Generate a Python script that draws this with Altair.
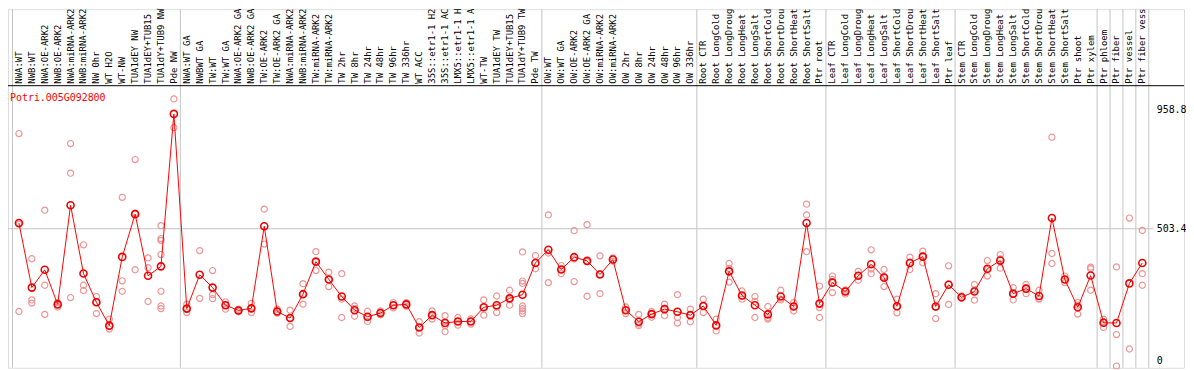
import altair as alt
import pandas as pd
import numpy as np

labels = [
    "NWA:WT", "NWB:WT", "NWA:OE-ARK2", "NWB:OE-ARK2", "NWA:miRNA-ARK2", "NWB:miRNA-ARK2",
    "NW 0hr", "WT H2O", "WT-NW", "TUA1dEY NW", "TUA1dEY+TUB15", "TUA1dY+TUB9 NW", "Pde NW",
    "NWA:WT GA", "NWBWT GA", "TW:WT", "TW:WT GA", "NWA:OE-ARK2 GA", "NWB:OE-ARK2 GA",
    "TW:OE-ARK2", "TW:OE-ARK2 GA", "NWA:miRNA-ARK2", "NWB:miRNA-ARK2", "TW:miRNA-ARK2",
    "TW:miRNA-ARK2", "TW 2hr", "TW 8hr", "TW 24hr", "TW 48hr", "TW 96hr", "TW 336hr",
    "WT ACC", "35S::etr1-1 H2", "35S::etr1-1 AC", "LMX5::etr1-1 H", "LMX5::etr1-1 A",
    "WT-TW", "TUA1dEY TW", "TUA1dEY+TUB15", "TUA1dY+TUB9 TW", "Pde TW",
    "OW:WT", "OW:WT GA", "OW:OE-ARK2", "OW:OE-ARK2 GA", "OW:miRNA-ARK2", "OW:miRNA-ARK2",
    "OW 2hr", "OW 8hr", "OW 24hr", "OW 48hr", "OW 96hr", "OW 336hr",
    "Root CTR", "Root LongCold", "Root LongDroug", "Root LongHeat", "Root LongSalt",
    "Root ShortCold", "Root ShortDrou", "Root ShortHeat", "Root ShortSalt", "Ptr root",
    "Leaf CTR", "Leaf LongCold", "Leaf LongDroug", "Leaf LongHeat", "Leaf LongSalt",
    "Leaf ShortCold", "Leaf ShortDrou", "Leaf ShortHeat", "Leaf ShortSalt", "Ptr leaf",
    "Stem CTR", "Stem LongCold", "Stem LongDroug", "Stem LongHeat", "Stem LongSalt",
    "Stem ShortCold", "Stem ShortDrou", "Stem ShortHeat", "Stem ShortSalt", "Ptr shoot",
    "Ptr xylem", "Ptr phloem", "Ptr fiber", "Ptr vessel", "Ptr fiber vess",
]

means = [
    525, 279, 347, 215, 593, 333, 223, 134, 396, 559, 324, 360, 941,
    199, 328, 279, 212, 192, 200, 513, 188, 163, 254, 378, 310, 245, 193, 168, 182,
    212, 215, 127, 174, 144, 150, 150, 204, 212, 238, 252, 373,
    423, 348, 395, 381, 329, 386, 193, 149, 178, 197, 187, 174,
    209, 135, 341, 249, 212, 177, 245, 207, 525, 218,
    298, 264, 324, 368, 317, 208, 373, 397, 207, 290,
    242, 264, 351, 382, 256, 275, 247, 544, 310, 204, 325,
    145, 144, 295, 373,
]

reps = [
    [866, 521, 188], [389, 232, 220], [574, 288, 177], [222, 215, 205], [828, 715, 241],
    [442, 288, 268], [245, 222, 180], [159, 134, 121], [623, 305, 265], [767, 563, 347],
    [392, 355, 226], [515, 466, 459, 405, 265, 209, 199], [998, 889],
    [216, 199, 184], [420, 238], [344, 252, 237], [225, 212, 197], [197, 192, 187],
    [219, 200, 184], [578, 445], [197, 188, 182], [193, 163, 131], [294, 254, 216],
    [416, 378, 344], [338, 310, 283], [332, 235, 165], [209, 200, 170], [189, 165, 150],
    [190, 182, 175], [222, 212, 202], [222, 215, 208], [149, 127, 106], [190, 174, 159],
    [172, 150, 134, 111], [165, 150, 136], [160, 150, 140], [232, 204, 174],
    [247, 205, 184], [269, 233, 212], [415, 304, 295, 209, 199, 190, 180], [401, 351],
    [556, 411, 298], [363, 348, 332], [496, 388, 302], [519, 378, 246], [400, 330, 256],
    [392, 380], [205, 193, 180], [177, 140, 134], [188, 178, 166], [216, 200, 172],
    [252, 165, 144], [197, 176, 149],
    [235, 209, 184], [159, 135, 114], [371, 352, 300], [266, 246, 235], [245, 226, 165],
    [207, 165, 159], [269, 235, 232], [222, 207, 190], [597, 556, 416], [285, 203, 165],
    [323, 310, 260], [270, 264, 255], [341, 324, 307], [423, 350, 332], [348, 320, 283],
    [235, 206, 183], [395, 376, 348], [418, 400, 373], [256, 204, 161], [362, 293, 215],
    [247, 240], [291, 270, 231], [382, 348, 323], [405, 388, 353], [279, 256, 232],
    [291, 278, 256], [269, 237, 235], [852, 409, 371], [323, 310, 298], [222, 212, 178],
    [357, 351, 269], [159, 148, 127], [358, 100, -20], [544, 45], [497, 332, 288],
]

group_sizes = [13, 28, 12, 10, 10, 11, 1, 1, 1, 1]
gene_id = ["Potri.005G092800"]
y_ticks = [0, 503.4, 958.8]

idx = list(range(len(labels)))
mean_df = pd.DataFrame({"i": idx, "label": labels, "v": means})
rep_df = pd.DataFrame([{"i": i, "v": v} for i, vs in enumerate(reps) for v in vs])
sep_df = pd.DataFrame({"b": [-0.5] + [float(c) - 0.5 for c in np.cumsum(group_sizes)]})
grid_df = pd.DataFrame({"v": [y_ticks[1]]})
title_df = pd.DataFrame({"t": gene_id})

W = 1184          # whole boxed chart (page x 8 .. 1192)
H = 361           # whole boxed chart (page y 8 .. 369)
LABEL_BAND = 77   # label band height; plot starts below it
FONT = "DejaVu Sans Mono"

x_scale = alt.Scale(domain=[-11 / 13, (W - 11) / 13], nice=False, zero=False)
y_scale = alt.Scale(domain=[-26.5, 1339.9], nice=False, zero=False)

y_axis = alt.Axis(
    orient="right", values=y_ticks, title=None, grid=False, ticks=False, domain=False,
    offset=-29, labelPadding=1, labelFont=FONT, labelFontSize=10, labelColor="black",
    labelExpr="datum.value == 0 ? '0' : format(datum.value, '.1f')",
    labelOverlap=False, labelFlush=False,
)

X_i = alt.X("i:Q", scale=x_scale, axis=None)
X_b = alt.X("b:Q", scale=x_scale, axis=None)
Y_v = alt.Y("v:Q", scale=y_scale, axis=y_axis)

sep = alt.Chart(sep_df).mark_rule(color="#c4c4c4", strokeWidth=1).encode(x=X_b)
band_line = alt.Chart(title_df).mark_rule(color="black", strokeWidth=1).encode(
    y=alt.value(LABEL_BAND), x=alt.value(0), x2=alt.value(W)
)
grid = alt.Chart(grid_df).mark_rule(color="#c4c4c4", strokeWidth=1).encode(
    y=Y_v, x=alt.value(0), x2=alt.value(W - 31)
)
sample_labels = alt.Chart(mean_df).mark_text(
    angle=270, align="left", baseline="middle", font=FONT, fontSize=9, color="black",
).encode(x=X_i, y=alt.value(LABEL_BAND - 2), text="label:N")
rep_pts = alt.Chart(rep_df).mark_point(
    shape="circle", filled=False, color="#ee9494", size=38, strokeWidth=1.2, opacity=1
).encode(x=X_i, y=Y_v)
line = alt.Chart(mean_df).mark_line(color="#ff0000", strokeWidth=1).encode(x=X_i, y=Y_v)
mean_pts = alt.Chart(mean_df).mark_point(
    shape="circle", filled=False, color="#ee0000", size=50, strokeWidth=1.6, opacity=1
).encode(x=X_i, y=Y_v)
gene = alt.Chart(title_df).mark_text(
    align="left", baseline="middle", font=FONT, fontSize=10, color="#ff0000"
).encode(x=alt.value(2), y=alt.value(LABEL_BAND + 12), text="t:N")

chart = alt.layer(
    sep, band_line, grid, sample_labels, rep_pts, line, mean_pts, gene
).properties(
    width=W, height=H,
    autosize=alt.AutoSizeParams(type="none"),
    padding={"left": 0, "top": 0, "right": 2, "bottom": 0},
).configure_view(stroke="black", strokeWidth=1).configure(background="white")

chart.save("out.html", embed_options={"renderer": "svg", "actions": False})
